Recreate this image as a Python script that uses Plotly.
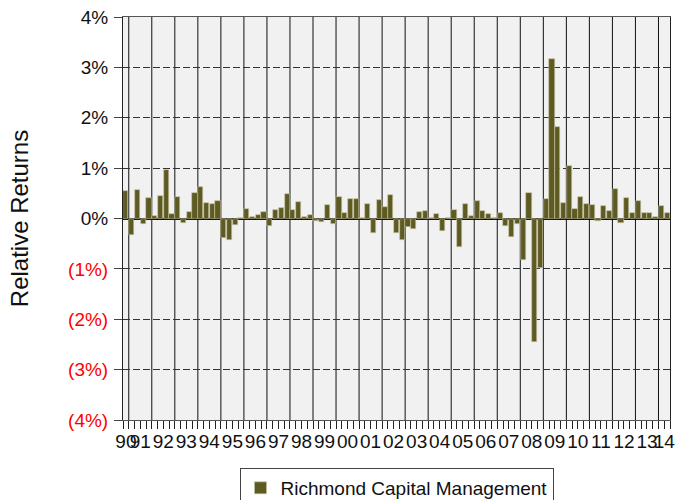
import plotly.graph_objects as go

# Quarterly relative returns (%), 1990 Q4 .. 2014 Q2
years = list(range(1990, 2015))
quarters_per_year = [1] + [4] * 23 + [2]
year_labels = ["90", "91", "92", "93", "94", "95", "96", "97", "98", "99", "00", "01",
               "02", "03", "04", "05", "06", "07", "08", "09", "10", "11", "12", "13", "14"]
returns = [
    0.55,                          # 1990 Q4
    -0.33, 0.57, -0.10, 0.41,      # 1991
    0.05, 0.45, 0.97, 0.09,        # 1992
    0.43, -0.08, 0.12, 0.50,       # 1993
    0.63, 0.30, 0.28, 0.35,        # 1994
    -0.39, -0.42, -0.13, 0.01,     # 1995
    0.18, 0.03, 0.07, 0.13,        # 1996
    -0.15, 0.16, 0.21, 0.48,       # 1997
    0.17, 0.32, 0.02, 0.07,        # 1998
    -0.05, -0.07, 0.27, -0.11,     # 1999
    0.43, 0.10, 0.39, 0.38,        # 2000
    0.01, 0.28, -0.28, 0.37,       # 2001
    0.22, 0.47, -0.28, -0.42,      # 2002
    -0.16, -0.21, 0.12, 0.15,      # 2003
    0.01, 0.09, -0.24, 0.01,       # 2004
    0.16, -0.57, 0.28, 0.05,       # 2005
    0.35, 0.15, 0.09, 0.01,        # 2006
    0.11, -0.15, -0.36, -0.11,     # 2007
    -0.83, 0.50, -2.46, -0.99,     # 2008
    0.38, 3.16, 1.82, 0.31,        # 2009
    1.05, 0.18, 0.42, 0.29,        # 2010
    0.26, -0.05, 0.25, 0.15,       # 2011
    0.58, -0.08, 0.40, 0.11,       # 2012
    0.35, 0.11, 0.11, 0.03,        # 2013
    0.24, 0.10,                    # 2014
]
series_name = "Richmond Capital Management"
y_ticks = [4, 3, 2, 1, 0, -1, -2, -3, -4]

n = len(returns)
x_pos = [i + 0.5 for i in range(n)]

# year boundaries and centres (in quarter units)
bounds = [0]
for q in quarters_per_year:
    bounds.append(bounds[-1] + q)
centers = [(bounds[i] + bounds[i + 1]) / 2 for i in range(len(years))]


def ylab(v):
    if v < 0:
        return f"<span style='color:#ff0000'>({abs(v)}%)</span>"
    return f"{v}%"


fig = go.Figure()
fig.add_trace(go.Bar(
    x=x_pos, y=returns, name=series_name, width=0.9,
    marker=dict(color="#5d5a22", line=dict(color="#c9c6a6", width=0.6)),
    showlegend=True,
))

shapes = []
for b in bounds[1:-1]:
    shapes.append(dict(type="line", xref="x", yref="paper", x0=b, x1=b, y0=0, y1=1,
                       line=dict(color="#111111", width=1), layer="below"))

font = "Arial, Liberation Sans, sans-serif"
fig.update_layout(
    width=675, height=500,
    margin=dict(l=123, r=5, t=17, b=80),
    paper_bgcolor="white", plot_bgcolor="#f1f1f1",
    font=dict(family=font, size=19, color="#111111"),
    shapes=shapes,
    showlegend=True,
    legend=dict(orientation="h", x=0.5, xanchor="center",
                yref="container", y=1 - 468 / 500, yanchor="top",
                bordercolor="#444444", borderwidth=1, bgcolor="white",
                font=dict(size=19, family=font, color="#111111")),
    bargap=0,
)
fig.update_xaxes(
    range=[0, n], tickmode="array", tickvals=centers, ticktext=year_labels,
    tickangle=0, automargin=False, ticklabeloverflow="allow", ticklabelstandoff=4,
    ticks="", showgrid=False, zeroline=False,
    showline=True, linecolor="#555555", linewidth=1, mirror=True,
    minor=dict(ticks="outside", ticklen=8, tickcolor="#222222", dtick=1, tick0=0, showgrid=False),
    tickfont=dict(size=19, color="#111111"),
)
fig.update_yaxes(
    range=[-4, 4], tickmode="array", tickvals=y_ticks, ticktext=[ylab(v) for v in y_ticks],
    automargin=False, ticklabeloverflow="allow",
    showgrid=True, gridcolor="#333333", griddash="7px,3px", gridwidth=1,
    zeroline=True, zerolinecolor="#000000", zerolinewidth=2,
    ticks="outside", ticklen=8, tickcolor="#444444", ticklabelstandoff=2,
    showline=True, linecolor="#222222", linewidth=1, mirror=True,
    title=dict(text="Relative Returns", font=dict(size=24, color="#111111"), standoff=32),
    tickfont=dict(size=19, color="#111111"),
)

fig.write_html(
    "out.html",
    config={"displayModeBar": False},
    post_script=(
        "document.body.style.margin='0';"
        "document.documentElement.style.overflow='hidden';"
        "var gd=document.getElementById('{plot_id}');"
        "gd.style.position='fixed';gd.style.top='0px';gd.style.left='0px';"
    ),
)
